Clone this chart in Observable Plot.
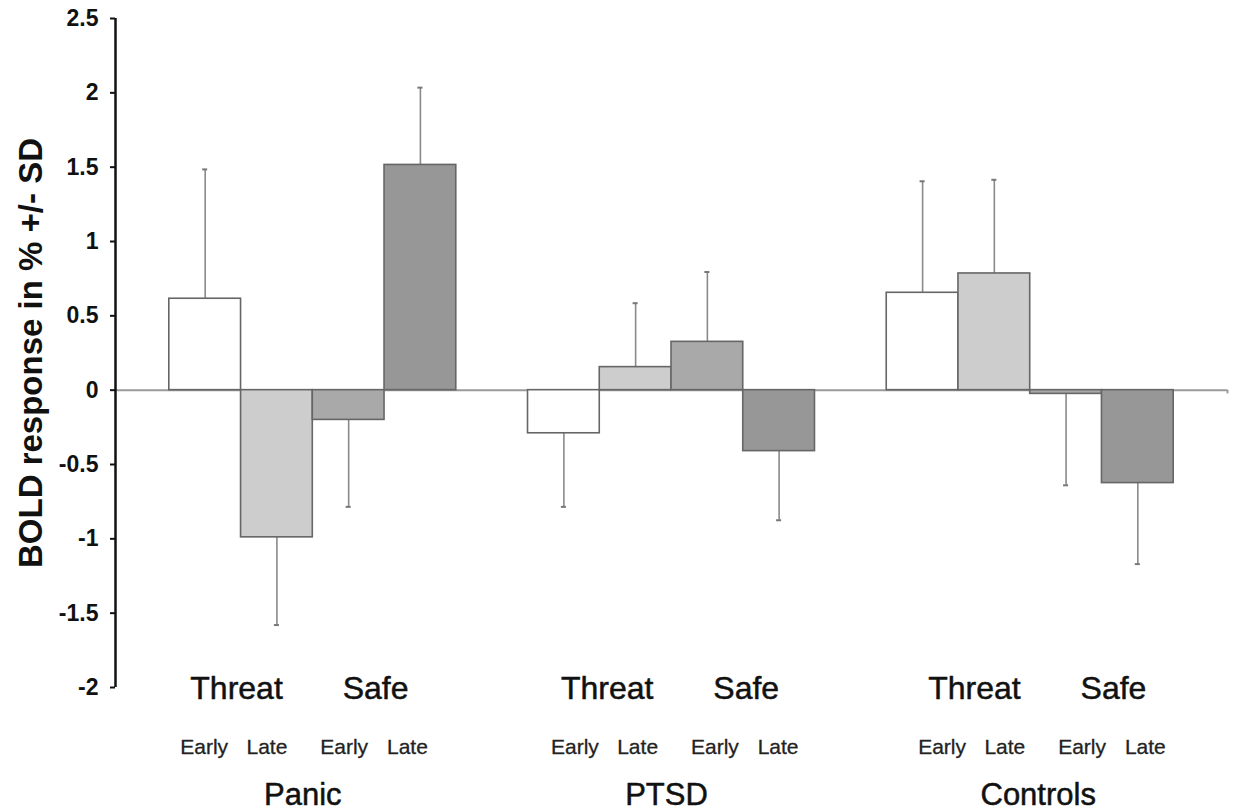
<!DOCTYPE html>
<html>
<head>
<meta charset="utf-8">
<script src="https://cdn.jsdelivr.net/npm/d3@7"></script>
<script src="https://cdn.jsdelivr.net/npm/@observablehq/plot@0.6"></script>
<style>
  html, body { margin: 0; padding: 0; background: #fff; }
</style>
</head>
<body>
<div id="chart"></div>
<script>
// ---- data ----
const groups = ["Panic", "PTSD", "Controls"];
const stimuli = ["Threat", "Safe"];
const phases = ["Early", "Late"];
// means in order: Threat-Early, Threat-Late, Safe-Early, Safe-Late
const meanPanic = [0.615, -0.99, -0.20, 1.515];
const meanPTSD = [-0.29, 0.155, 0.325, -0.41];
const meanControls = [0.655, 0.785, -0.025, -0.625];
const sdPanic = [0.87, 0.59, 0.585, 0.52];
const sdPTSD = [0.495, 0.43, 0.47, 0.465];
const sdControls = [0.75, 0.63, 0.615, 0.545];
const conditionFills = ["#ffffff", "#cdcdcd", "#a9a9a9", "#979797"];
const yTicks = [-2, -1.5, -1, -0.5, 0, 0.5, 1, 1.5, 2, 2.5];
const yTitle = "BOLD response in % +/- SD";

// ---- layout helpers (label nudges in pixels) ----
const pxPerUnit = (1233 - 115 - 6) / 15.5;
const groupNudge = [-7, 5, 13.5];
const phaseNudge = [6, -3, 2.5, -6];
const stimNudge = [2.5, -2];
const groupLabelNudge = [-10, -5, 8];

// ---- build table ----
const means = [meanPanic, meanPTSD, meanControls];
const sds = [sdPanic, sdPTSD, sdControls];
const rows = [];
groups.forEach((g, gi) => {
  stimuli.forEach((s, si) => {
    phases.forEach((p, pi) => {
      const b = si * 2 + pi;
      const x1 = 0.75 + gi * 5 + b;
      const v = means[gi][b];
      const sd = sds[gi][b];
      rows.push({group: g, stimulus: s, phase: p, cond: b, x1, x2: x1 + 1, xc: x1 + 0.5,
                 xl: x1 + 0.5 + (groupNudge[gi] + phaseNudge[b]) / pxPerUnit,
                 value: v, errEnd: v >= 0 ? v + sd : v - sd});
    });
  });
});
const stimLabels = [];
groups.forEach((g, gi) => stimuli.forEach((s, si) =>
  stimLabels.push({text: s, x: 0.75 + gi * 5 + si * 2 + 1 + (groupNudge[gi] + stimNudge[si]) / pxPerUnit})));
const groupLabels = groups.map((g, gi) => ({text: g, x: 0.75 + gi * 5 + 2 + groupLabelNudge[gi] / pxPerUnit}));

const chart = Plot.plot({
  width: 1233,
  height: 810,
  marginLeft: 115,
  marginRight: 6,
  marginTop: 18,
  marginBottom: 123,
  x: {domain: [0, 15.5], axis: null},
  y: {domain: [-2, 2.5], axis: null},
  style: {fontFamily: "'Liberation Sans', Arial, sans-serif", background: "#fff", color: "#111"},
  marks: [
    Plot.ruleY([0], {stroke: "#9a9a9a", strokeWidth: 2}),
    Plot.ruleX([15.5], {y1: 0, y2: -0.025, stroke: "#9a9a9a", strokeWidth: 2}),
    // error bars
    Plot.ruleX(rows, {x: "xc", y1: "value", y2: "errEnd", stroke: "#8a8a8a", strokeWidth: 1.6}),
    Plot.ruleY(rows, {y: "errEnd", x1: d => d.xc - 0.035, x2: d => d.xc + 0.035, stroke: "#777", strokeWidth: 2}),
    // bars
    Plot.rectY(rows, {x1: "x1", x2: "x2", y1: 0, y2: "value",
      fill: d => conditionFills[d.cond], stroke: "#666", strokeWidth: 1.6}),
    // y axis
    Plot.ruleX([0], {stroke: "#111", strokeWidth: 2.5}),
    Plot.axisY(yTicks, {tickSize: 5, tickPadding: 12, tickFormat: d => String(d),
      fontSize: 23, fontWeight: "bold", stroke: "#111", strokeWidth: 2, label: null}),
    Plot.text([yTitle], {text: d => d, frameAnchor: "left", textAnchor: "middle", dx: -84, rotate: -90,
      fontSize: 33, fontWeight: "bold", fill: "#111"}),
    // category labels below
    Plot.text(stimLabels, {x: "x", text: "text", frameAnchor: "bottom", lineAnchor: "bottom",
      dy: 11, fontSize: 32, fill: "#111", stroke: "#111", strokeWidth: 0.5}),
    Plot.text(rows, {x: "xl", text: "phase", frameAnchor: "bottom", lineAnchor: "bottom",
      dy: 66, fontSize: 21, fill: "#222", stroke: "#222", strokeWidth: 0.3}),
    Plot.text(groupLabels, {x: "x", text: "text", frameAnchor: "bottom", lineAnchor: "bottom",
      dy: 117, fontSize: 31, fill: "#111", stroke: "#111", strokeWidth: 0.5})
  ]
});
document.getElementById("chart").appendChild(chart);
</script>
</body>
</html>
